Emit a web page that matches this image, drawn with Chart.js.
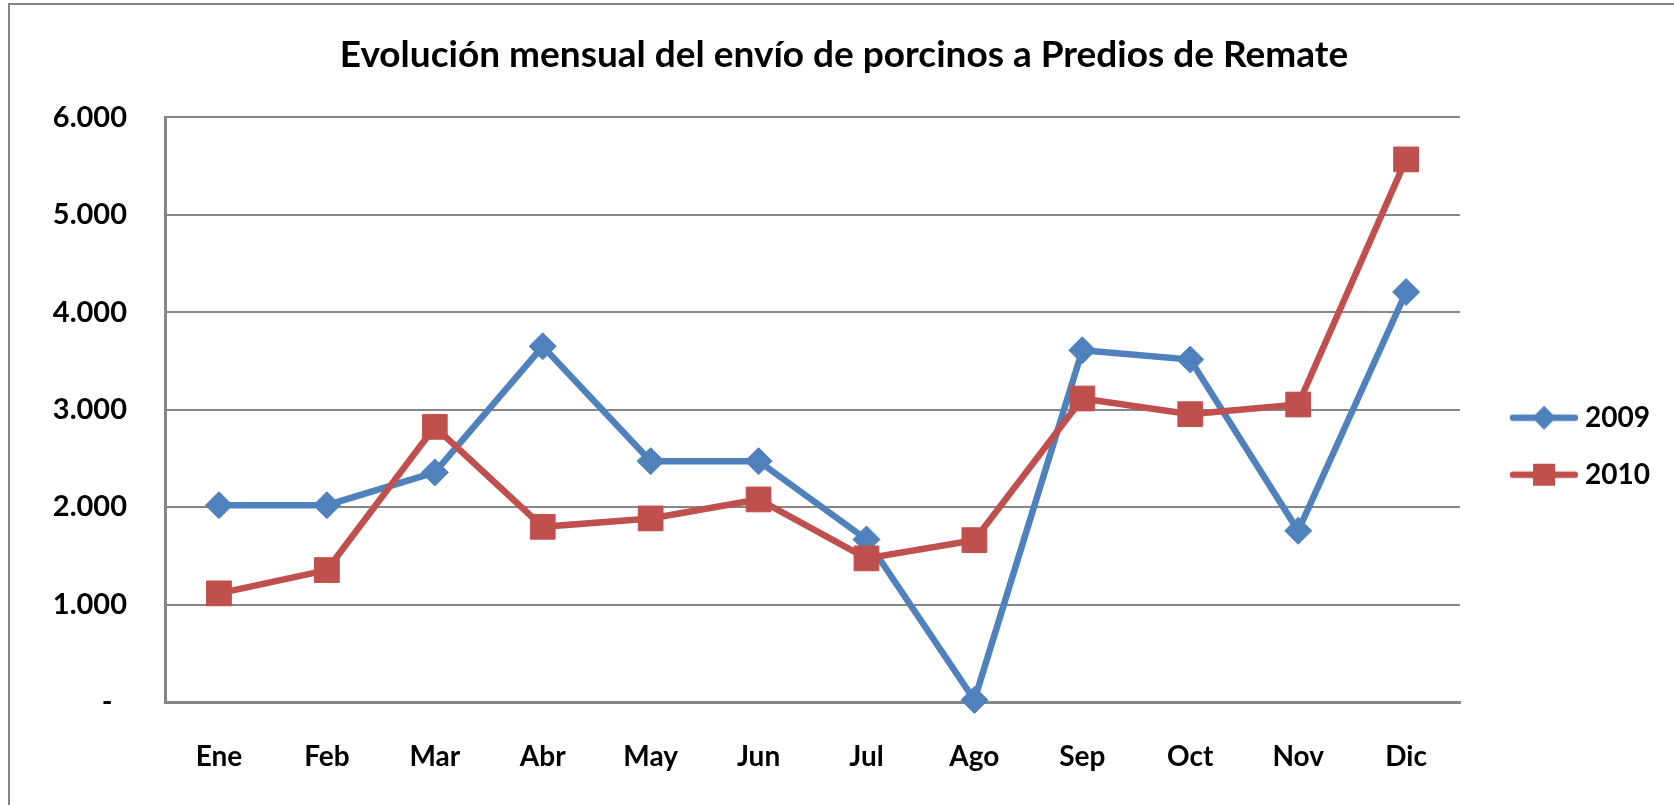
<!DOCTYPE html>
<html>
<head>
<meta charset="utf-8">
<title>Evolución mensual del envío de porcinos a Predios de Remate</title>
<script src="https://cdn.jsdelivr.net/npm/chart.js@4"></script>
<style>
    html, body {
        margin: 0;
        padding: 0;
        background: #fff;
        overflow: hidden;
    }
    .frame {
        position: absolute;
        left: 8px;
        top: 3px;
        width: 1720px;
        height: 900px;
        border: 2px solid #868686;
    }
    #chart {
        position: absolute;
        left: 0;
        top: 0;
    }
</style>
</head>
<body>
<div class="frame"></div>
<canvas id="chart" width="1674" height="805"></canvas>
<script>
const months = ["Ene", "Feb", "Mar", "Abr", "May", "Jun", "Jul", "Ago", "Sep", "Oct", "Nov", "Dic"];
const envios2009 = [2020, 2020, 2356, 3651, 2472, 2472, 1668, 20, 3610, 3515, 1757, 4208];
const envios2010 = [1115, 1354, 2824, 1798, 1884, 2079, 1474, 1661, 3115, 2954, 3053, 5569];
const yTickLabels = ["-\u2002", "1.000", "2.000", "3.000", "4.000", "5.000", "6.000"];

const BLUE = "#4F81BD";
const RED = "#C0504D";
const GRID = "#868686";
const FONT = "Lato, 'Open Sans', sans-serif";

// legend symbol: line with the marker in the middle, like the spreadsheet legend
function legendIcon(color, shape) {
    const c = document.createElement("canvas");
    c.width = 96;
    c.height = 30;
    const g = c.getContext("2d");
    g.strokeStyle = color;
    g.fillStyle = color;
    g.lineWidth = 6.5;
    g.lineCap = "round";
    g.beginPath();
    g.moveTo(31, 15);
    g.lineTo(93, 15);
    g.stroke();
    if (shape === "diamond") {
        g.beginPath();
        g.moveTo(62 - 12, 15);
        g.lineTo(62, 15 - 12);
        g.lineTo(62 + 12, 15);
        g.lineTo(62, 15 + 12);
        g.closePath();
        g.fill();
    } else {
        g.fillRect(62 - 11, 15 - 11, 22, 22);
    }
    return c;
}
const icons = [legendIcon(BLUE, "diamond"), legendIcon(RED, "square")];

Chart.defaults.font.family = FONT;
Chart.defaults.font.weight = "bold";
Chart.defaults.color = "#000";

new Chart(document.getElementById("chart"), {
    type: "line",
    data: {
        labels: months,
        datasets: [{
            label: "2009",
            data: envios2009,
            borderColor: BLUE,
            backgroundColor: BLUE,
            borderWidth: 6.5,
            pointStyle: "rectRot",
            pointRadius: 13.5,
            pointBorderWidth: 1,
            pointBackgroundColor: BLUE,
            pointBorderColor: BLUE,
            clip: false,
            order: 1,
        }, {
            label: "2010",
            data: envios2010,
            borderColor: RED,
            backgroundColor: RED,
            borderWidth: 6.5,
            pointStyle: "rect",
            pointRadius: 17.5,
            pointBorderWidth: 1,
            pointBackgroundColor: RED,
            pointBorderColor: RED,
            clip: false,
            order: 0,
        }]
    },
    options: {
        responsive: false,
        animation: false,
        devicePixelRatio: 1,
        layout: {
            padding: { left: 28, right: 14, top: 0, bottom: 0 }
        },
        plugins: {
            title: {
                display: true,
                text: "Evolución mensual del envío de porcinos a Predios de Remate",
                color: "#000",
                font: { size: 37, weight: "bold" },
                padding: { top: 33, bottom: 40 }
            },
            legend: {
                position: "right",
                title: {
                    display: true,
                    text: "",
                    font: { size: 12 },
                    padding: { top: 73, bottom: 0 }
                },
                labels: {
                    usePointStyle: true,
                    pointStyleWidth: 82,
                    padding: 29,
                    color: "#000",
                    font: { size: 28, weight: "bold" },
                    sort: (a, b) => a.datasetIndex - b.datasetIndex,
                    generateLabels: (chart) => {
                        const items = Chart.defaults.plugins.legend.labels.generateLabels(chart);
                        items.forEach(it => { it.pointStyle = icons[it.datasetIndex]; });
                        return items;
                    }
                }
            },
            tooltip: { enabled: false }
        },
        scales: {
            x: {
                offset: true,
                grid: { display: false, drawTicks: false },
                border: { display: true, color: GRID, width: 3 },
                ticks: {
                    padding: 38,
                    maxRotation: 0,
                    autoSkip: false,
                    color: "#000",
                    font: { size: 28, weight: "bold" }
                },
                afterFit: (s) => { s.height = 103; }
            },
            y: {
                min: 0,
                max: 6000,
                grid: { color: GRID, lineWidth: 2, drawTicks: false },
                border: { display: true, color: GRID, width: 3 },
                ticks: {
                    stepSize: 1000,
                    padding: 38,
                    color: "#000",
                    font: { size: 29, weight: "bold" },
                    callback: (v, i) => yTickLabels[i]
                },
                afterFit: (s) => { s.width = 137; }
            }
        }
    }
});
</script>
</body>
</html>
